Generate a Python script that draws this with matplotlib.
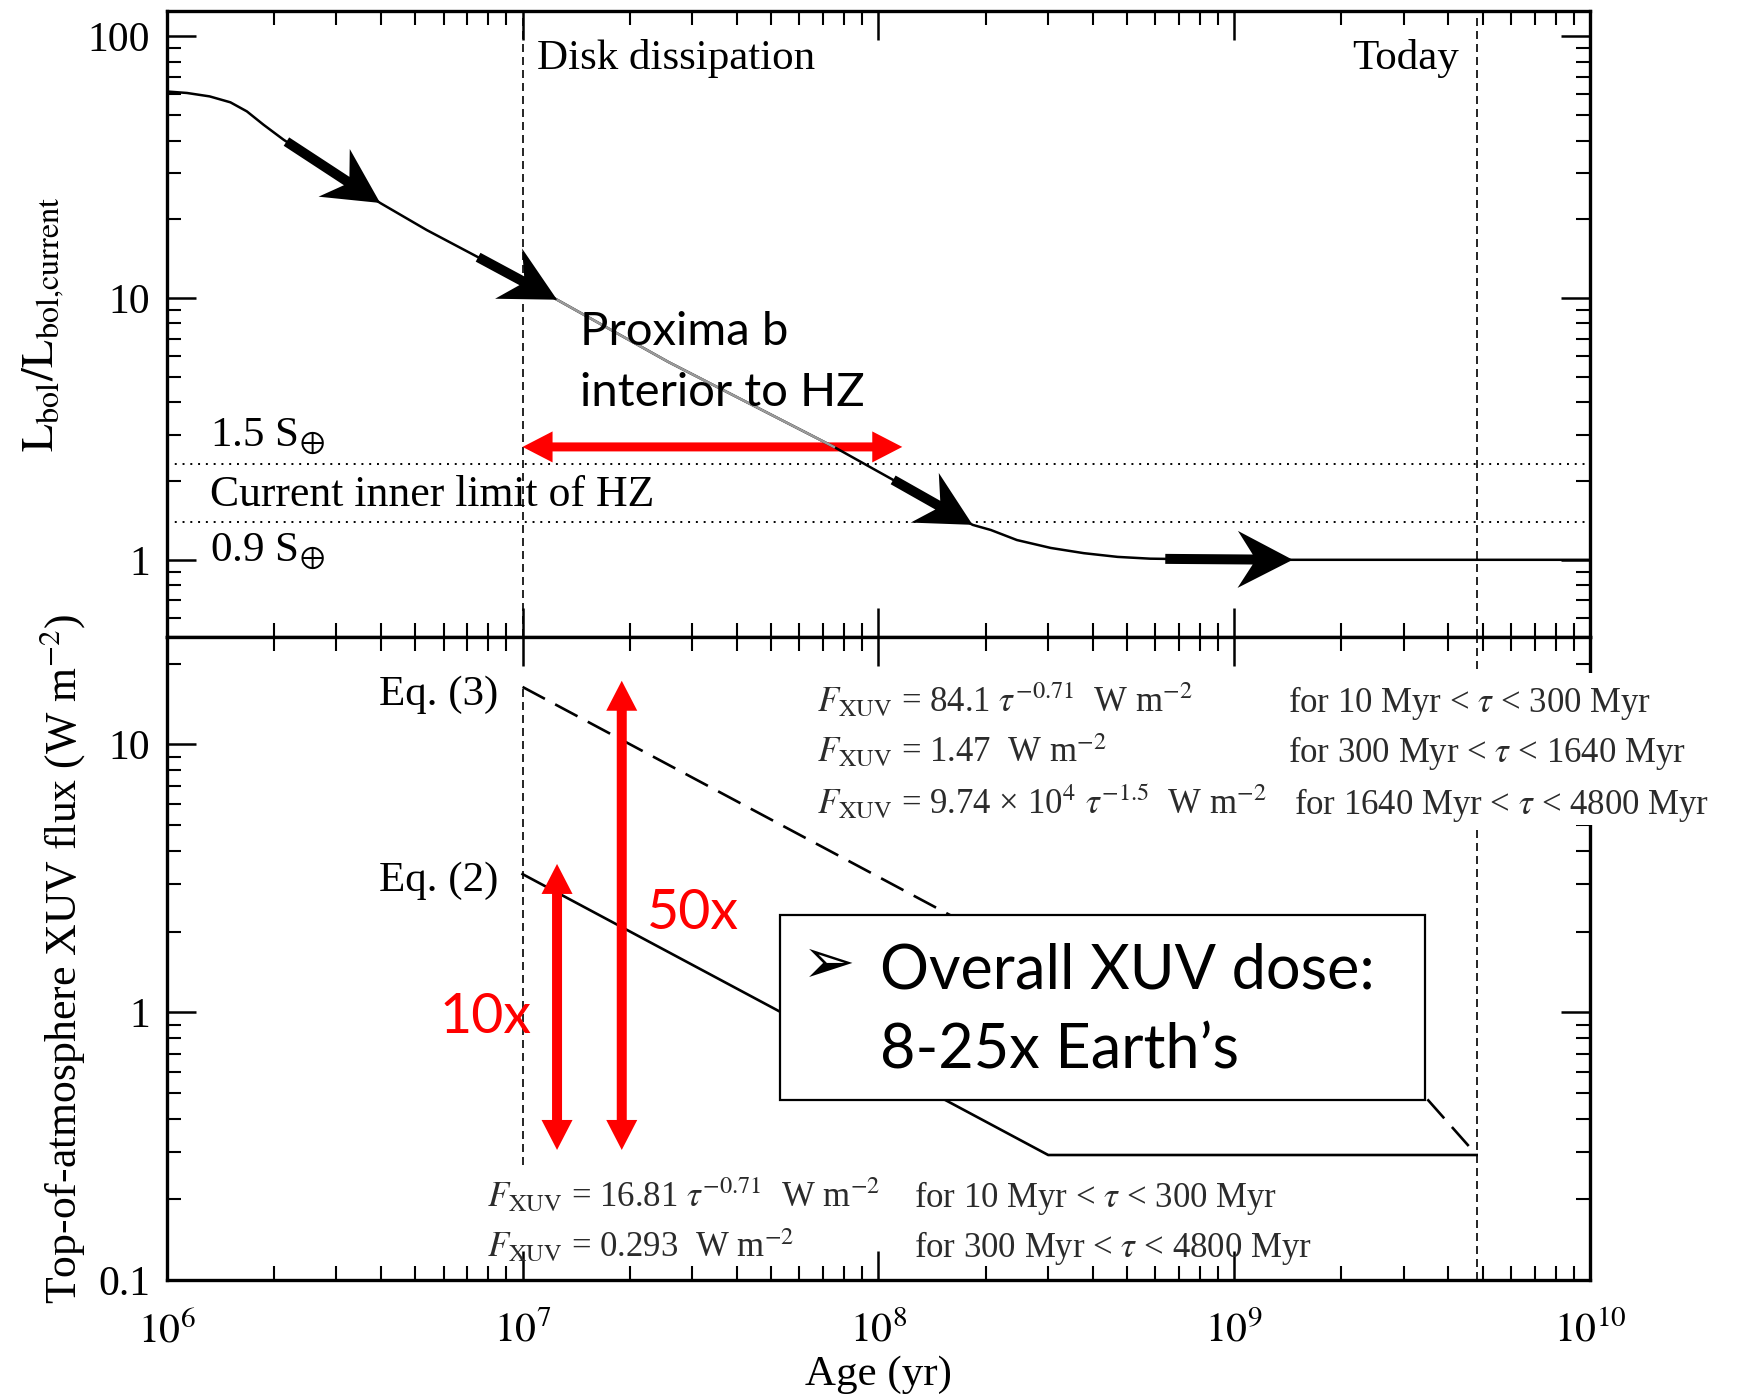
import numpy as np
import matplotlib
matplotlib.use("Agg")
import matplotlib.pyplot as plt
from matplotlib.patches import Polygon, Rectangle
from matplotlib.transforms import IdentityTransform
from matplotlib.ticker import FixedLocator, NullFormatter

# ---------------- data ----------------
lum_age = [1.0e6, 1.14e6, 1.32e6, 1.51e6, 1.68e6, 1.87e6, 2.13e6, 3.98e6, 5.38e6,
           7.45e6, 1.25e7, 2.57e7, 7.5e7, 1.1e8, 1.84e8, 2.07e8, 2.45e8, 3.05e8,
           3.78e8, 4.7e8, 5.8e8, 1.0e9, 1.0e10]
lum_ratio = [61.6, 60.8, 59.0, 56.0, 51.7, 46.0, 40.3, 23.1, 18.2,
             14.4, 9.86, 5.7, 2.70, 2.02, 1.36, 1.30, 1.19, 1.11,
             1.06, 1.026, 1.01, 1.0, 1.0]
gray_range = [1.25e7, 7.5e7]

hz_upper = 2.33      # 1.5 S_earth
hz_lower = 1.395     # 0.9 S_earth
disk_age = 1e7
today_age = 4.8e9

eq2_age = [1e7, 3e8, 4.8e9]
eq2_flux = [3.28, 0.293, 0.293]
eq3_age = [1e7, 3e8, 1.64e9, 4.8e9]
eq3_flux = [16.4, 1.47, 1.47, 0.293]
disk_line_flux = [0.27, 16.4]

arrow_tail_age = [2.17e6, 7.5e6, 1.1e8, 6.4e8]
arrow_tip_age = [3.98e6, 1.25e7, 1.84e8, 1.46e9]

hz_arrow_age = [1e7, 1.167e8]
hz_arrow_lum = 2.70
dose_arrow_age = [1.25e7, 1.9e7]
dose_arrow_low = [0.306, 0.306]
dose_arrow_high = [3.58, 17.3]

xticks = [1e6, 1e7, 1e8, 1e9, 1e10]
xticklabels = [r"$10^{6}$", r"$10^{7}$", r"$10^{8}$", r"$10^{9}$", r"$10^{10}$"]
top_yticks = [1, 10, 100]
top_yticklabels = ["1", "10", "100"]
bot_yticks = [0.1, 1, 10]
bot_yticklabels = ["0.1", "1", "10"]

# ---------------- style ----------------
plt.rcParams["font.family"] = ["Liberation Serif", "DejaVu Serif"]
plt.rcParams["mathtext.fontset"] = "stix"
SANS = ["Lato", "DejaVu Sans"]
SERIF_SIZE = 31
TICK_SIZE = 30
EQ_SIZE = 25
EQ_COLOR = "#2b2b2b"

fig = plt.figure(figsize=(17.42, 14.0), dpi=100)
ax1 = fig.add_axes([0.0957, 0.545, 0.8171, 0.4471])
ax2 = fig.add_axes([0.0957, 0.0857, 0.8171, 0.4593])


def minor_list(lo_exp, hi_exp):
    out = []
    for e in range(lo_exp, hi_exp):
        for m in range(2, 10):
            out.append(m * 10.0 ** e)
    return out


for ax in (ax1, ax2):
    ax.set_xscale("log")
    ax.set_yscale("log")
    ax.set_xlim(1e6, 1e10)
    for s in ax.spines.values():
        s.set_linewidth(2.4)
    ax.xaxis.set_major_locator(FixedLocator(xticks))
    ax.xaxis.set_minor_locator(FixedLocator(minor_list(6, 10)))
    ax.xaxis.set_minor_formatter(NullFormatter())
    ax.yaxis.set_minor_formatter(NullFormatter())
    ax.tick_params(which="major", direction="in", length=21, width=1.8,
                   top=True, right=True, labelsize=TICK_SIZE, pad=12)
    ax.tick_params(which="minor", direction="in", length=10, width=1.5,
                   top=True, right=True)

ax1.set_ylim(0.507, 125)
ax2.set_ylim(0.1, 25.2)
ax1.set_yticks(top_yticks, top_yticklabels)
ax1.yaxis.set_minor_locator(FixedLocator(minor_list(-1, 2)))
ax1.set_xticklabels([])
ax2.set_yticks(bot_yticks, bot_yticklabels)
ax2.yaxis.set_minor_locator(FixedLocator(minor_list(-1, 2)))
ax2.set_xticks(xticks, xticklabels)
ax2.tick_params(axis="x", which="major", pad=23)

# ---------------- top panel ----------------
ax1.plot(lum_age, lum_ratio, color="black", lw=1.8, zorder=4)
la = np.array(lum_age)
lr = np.array(lum_ratio)
gmask = (la >= gray_range[0]) & (la <= gray_range[1])
ax1.plot(la[gmask], lr[gmask], color="#9a9a9a", lw=1.8, zorder=4.1)

dot = (0, (1, 3))
ax1.axhline(hz_upper, color="black", lw=1.4, ls=dot, zorder=2)
ax1.axhline(hz_lower, color="black", lw=1.4, ls=dot, zorder=2)
dash_v = (0, (4.8, 3.0))
ax1.axvline(disk_age, color="black", lw=1.2, ls=dash_v, zorder=2)
ax1.axvline(today_age, color="black", lw=1.2, ls=dash_v, zorder=2)

ax1.text(1.1e7, 75.4, "Disk dissipation", fontsize=SERIF_SIZE, ha="left", va="baseline")
ax1.text(4.27e9, 75.4, "Today", fontsize=SERIF_SIZE, ha="right", va="baseline")
ax1.text(1.32e6, 2.73, r"1.5 S$_{\oplus}$", fontsize=SERIF_SIZE, ha="left", va="baseline")
ax1.text(1.32e6, 1.60, "Current inner limit of HZ", fontsize=SERIF_SIZE + 0.5, ha="left", va="baseline")
ax1.text(1.32e6, 1.0, r"0.9 S$_{\oplus}$", fontsize=SERIF_SIZE, ha="left", va="baseline")
ax1.text(1.45e7, 6.64, "Proxima b", fontsize=34, family=SANS, ha="left", va="baseline", zorder=5)
ax1.text(1.45e7, 3.88, "interior to HZ", fontsize=34, family=SANS, ha="left", va="baseline", zorder=5)

ax1.set_ylabel(r"$\mathrm{L_{bol}/L_{bol{,}current}}$", fontsize=33)
ax1.yaxis.set_label_coords(-0.0705, 0.5)

# ---------------- bottom panel ----------------
ax2.plot(eq2_age, eq2_flux, color="black", lw=1.9, zorder=2)
ax2.plot(eq3_age, eq3_flux, color="black", lw=1.9, ls=(0, (9.6, 4.4)), zorder=2)
ax2.vlines(disk_age, disk_line_flux[0], disk_line_flux[1], color="black", lw=1.2,
           linestyles=[dash_v], zorder=2)
ax2.axvline(today_age, color="black", lw=1.2, ls=dash_v, zorder=2)

ax2.text(8.55e6, 14.1, "Eq. (3)", fontsize=SERIF_SIZE, ha="right", va="baseline")
ax2.text(8.55e6, 2.84, "Eq. (2)", fontsize=SERIF_SIZE, ha="right", va="baseline")

# upper equations (white background covering the spine)
ax2.add_patch(Rectangle((0.452, 0.7076), 0.643, 0.2364, transform=ax2.transAxes,
                        facecolor="white", edgecolor="none", zorder=3, clip_on=False))
up_left, up_for = 0.4568, 0.7878
up_lines = [
    (r"$F_{\rm XUV}$ = 84.1 $\tau^{-0.71}$  W m$^{-2}$", "for 10 Myr < $\\tau$ < 300 Myr", 0.8834, up_for),
    (r"$F_{\rm XUV}$ = 1.47  W m$^{-2}$", "for 300 Myr < $\\tau$ < 1640 Myr", 0.8059, up_for),
    (r"$F_{\rm XUV}$ = 9.74 × 10$^{4}$ $\tau^{-1.5}$  W m$^{-2}$", "for 1640 Myr < $\\tau$ < 4800 Myr", 0.7247, 0.792),
]
for lhs, rhs, yb, xf in up_lines:
    ax2.text(up_left, yb, lhs, transform=ax2.transAxes, fontsize=EQ_SIZE, color=EQ_COLOR,
             ha="left", va="baseline", zorder=4, clip_on=False)
    ax2.text(xf, yb, rhs, transform=ax2.transAxes, fontsize=EQ_SIZE, color=EQ_COLOR,
             ha="left", va="baseline", zorder=4, clip_on=False)

low_lines = [
    (r"$F_{\rm XUV}$ = 16.81 $\tau^{-0.71}$  W m$^{-2}$", "for 10 Myr < $\\tau$ < 300 Myr", 0.1135),
    (r"$F_{\rm XUV}$ = 0.293  W m$^{-2}$", "for 300 Myr < $\\tau$ < 4800 Myr", 0.0358),
]
for lhs, rhs, yb in low_lines:
    ax2.text(0.2249, yb, lhs, transform=ax2.transAxes, fontsize=EQ_SIZE, color=EQ_COLOR,
             ha="left", va="baseline", zorder=4)
    ax2.text(0.5248, yb, rhs, transform=ax2.transAxes, fontsize=EQ_SIZE, color=EQ_COLOR,
             ha="left", va="baseline", zorder=4)

# summary box
ax2.add_patch(Rectangle((0.4309, 0.2807), 0.4531, 0.2870, transform=ax2.transAxes,
                        facecolor="white", edgecolor="black", lw=1.6, zorder=5))
ax2.text(0.4465, 0.462, "\u27a2", transform=ax2.transAxes, fontsize=46,
         family=["DejaVu Sans"], ha="left", va="baseline", zorder=6)
ax2.text(0.5012, 0.4541, "Overall XUV dose:", transform=ax2.transAxes, fontsize=44,
         family=SANS, ha="left", va="baseline", zorder=6)
ax2.text(0.5012, 0.3297, "8-25x Earth\u2019s", transform=ax2.transAxes, fontsize=44,
         family=SANS, ha="left", va="baseline", zorder=6)

ax2.text(2.24e7, 2.05, "50x", fontsize=40, family=SANS, color="#ff0000",
         ha="left", va="baseline", zorder=6)
ax2.text(5.84e6, 0.836, "10x", fontsize=40, family=SANS, color="#ff0000",
         ha="left", va="baseline", zorder=6)

ax2.set_ylabel("Top-of-atmosphere XUV flux (W m$^{-2}$)", fontsize=31.5)
ax2.yaxis.set_label_coords(-0.0560, 0.5)
ax2.set_xlabel("Age (yr)", fontsize=SERIF_SIZE)
ax2.xaxis.set_label_coords(0.5, -0.118)


# ---------------- arrows (drawn in display space) ----------------
def arrow_verts(p0, p1, tw, hl, hw, notch, both=False):
    p0 = np.asarray(p0, float)
    p1 = np.asarray(p1, float)
    d = p1 - p0
    u = d / np.hypot(*d)
    n = np.array([-u[1], u[0]])

    def head(tip, dv):
        base = tip - dv * hl
        notchp = tip - dv * hl * notch
        cp = base + n * hw / 2
        cm = base - n * hw / 2
        t = 1 - tw / hw
        jp = cp + t * (notchp - cp)
        jm = cm + t * (notchp - cm)
        return jp, cp, cm, jm

    jp1, cp1, cm1, jm1 = head(p1, u)
    if both:
        jp0, cp0, cm0, jm0 = head(p0, -u)
        return [p0, cp0, jp0, jp1, cp1, p1, cm1, jm1, jm0, cm0]
    return [p0 + n * tw / 2, jp1, cp1, p1, cm1, jm1, p0 - n * tw / 2]


def add_arrow(ax, a, b, color, tw, hl, hw, notch, both=False, z=5):
    p0 = ax.transData.transform(a)
    p1 = ax.transData.transform(b)
    poly = Polygon(arrow_verts(p0, p1, tw, hl, hw, notch, both), closed=True,
                   facecolor=color, edgecolor="none", transform=IdentityTransform(),
                   zorder=z, clip_on=False)
    ax.add_artist(poly)


log_a = np.log10(lum_age)
log_l = np.log10(lum_ratio)
for ta, pa in zip(arrow_tail_age, arrow_tip_age):
    tl = 10 ** np.interp(np.log10(ta), log_a, log_l)
    pl = 10 ** np.interp(np.log10(pa), log_a, log_l)
    add_arrow(ax1, (ta, tl), (pa, pl), "black", 10, 55, 57, 0.67, z=5)

add_arrow(ax1, (hz_arrow_age[0], hz_arrow_lum), (hz_arrow_age[1], hz_arrow_lum),
          "#ff0000", 9, 30, 31, 1.0, both=True, z=3.5)
for xa, lo, hi in zip(dose_arrow_age, dose_arrow_low, dose_arrow_high):
    add_arrow(ax2, (xa, lo), (xa, hi), "#ff0000", 10, 30, 31, 1.0, both=True, z=4.5)

fig.savefig("out.png", dpi=100)
